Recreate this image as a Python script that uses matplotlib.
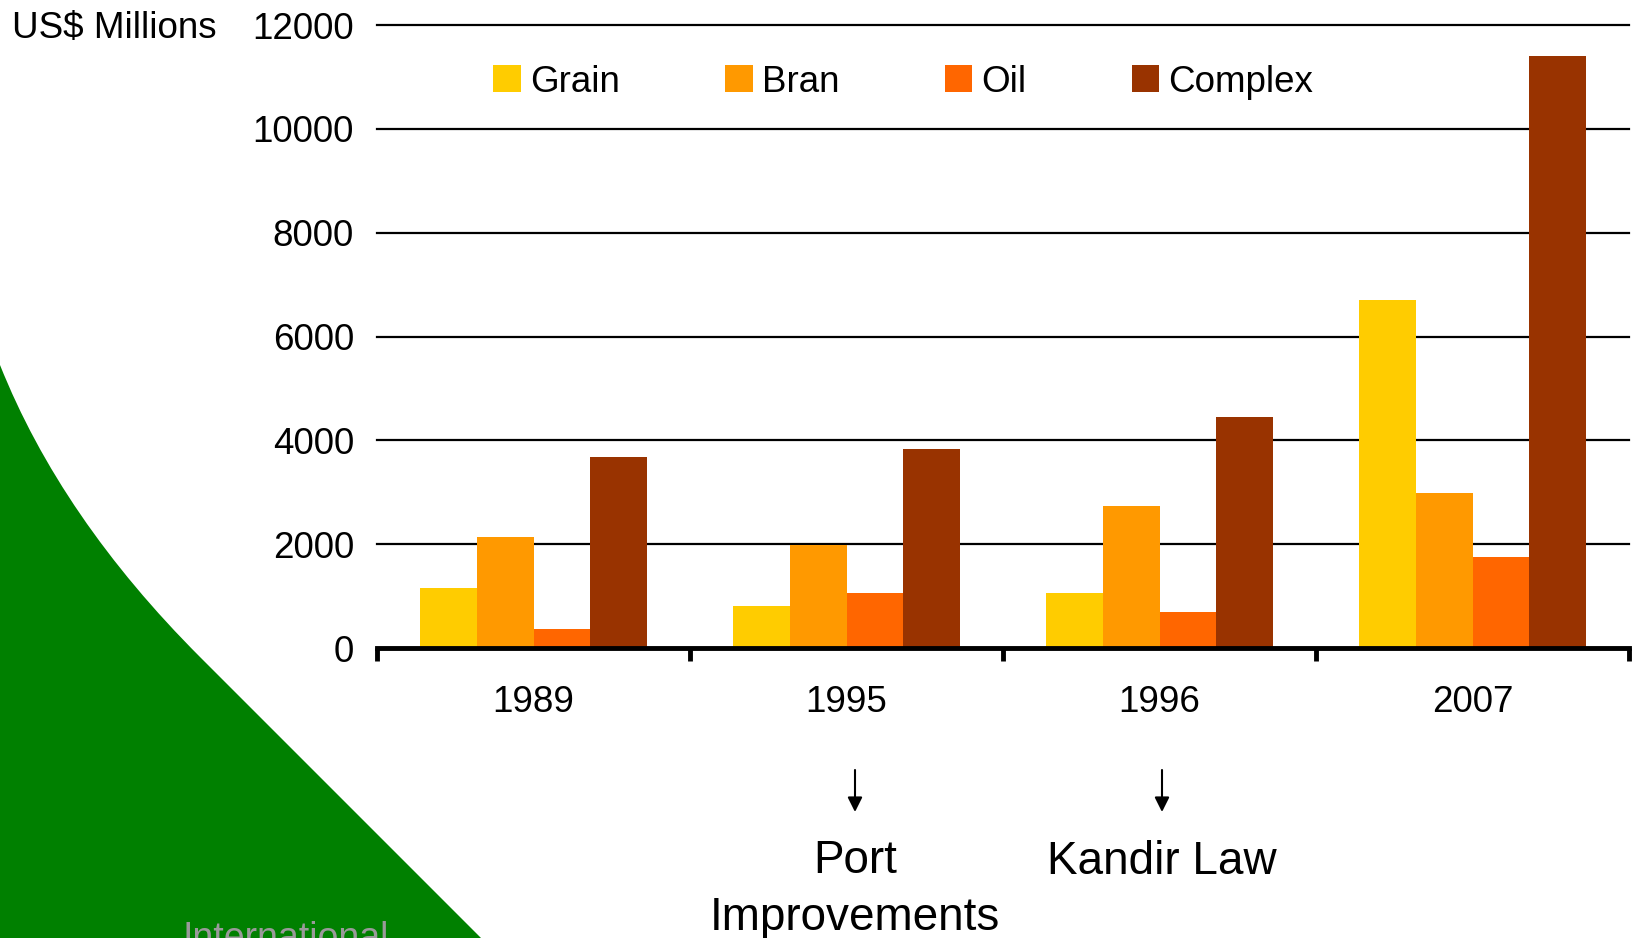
import numpy as np
import matplotlib
matplotlib.use('Agg')
import matplotlib.pyplot as plt
import matplotlib.transforms as mtransforms
from matplotlib.patches import PathPatch
from matplotlib.path import Path

plt.rcParams['font.family'] = ['Liberation Sans', 'DejaVu Sans']

# data (US$ millions)
years = ['1989', '1995', '1996', '2007']
grain = [1150, 800, 1050, 6700]
bran = [2130, 1990, 2730, 2980]
oil = [360, 1050, 700, 1750]
complex_ = [3670, 3830, 4450, 11400]
series_names = ['Grain', 'Bran', 'Oil', 'Complex']
colors = ['#FFCC00', '#FF9900', '#FF6600', '#993300']

events = ['Port\nImprovements', 'Kandir Law']

W, H = 1632, 938
fig = plt.figure(figsize=(W / 100, H / 100), dpi=100)


def fx(px):
    return px / W


def fy(py):
    return 1 - py / H


# green slide decoration in the lower left corner
verts = [(0, 365), (61, 518), (200, 657), (481, 938), (0, 938), (0, 365)]
codes = [Path.MOVETO, Path.CURVE3, Path.CURVE3, Path.LINETO, Path.LINETO, Path.CLOSEPOLY]
shape = Path([(fx(a), fy(b)) for a, b in verts], codes)
fig.add_artist(PathPatch(shape, transform=fig.transFigure, facecolor='#008000',
                         edgecolor='none', zorder=0))
fig.text(fx(182), fy(949), 'International', fontsize=27, color='#9a9a9a', va='baseline')

ax = fig.add_axes([fx(377), fy(648), fx(1629 - 377), (648 - 25) / H])

x = np.arange(len(years))
w = 0.182
all_series = [grain, bran, oil, complex_]
for k, vals in enumerate(all_series):
    ax.bar(x + (k - 1.5) * w, vals, width=w, color=colors[k], label=series_names[k], zorder=3)

ax.set_xlim(-0.5, 3.5)
ax.set_ylim(0, 12000)
ax.set_yticks(np.arange(0, 12001, 2000))
ax.yaxis.grid(True, color='black', linewidth=1.6, zorder=1)
for gl in ax.get_ygridlines():
    gl.set_clip_on(False)
ax.set_axisbelow(True)

for s in ['top', 'right', 'left']:
    ax.spines[s].set_visible(False)
ax.spines['bottom'].set_linewidth(3.5)
ax.spines['bottom'].set_zorder(4)

ax.set_xticks(x)
ax.set_xticklabels(years)
ax.set_xticks(np.arange(-0.5, 4, 1), minor=True)
ax.tick_params(axis='x', which='major', length=0, pad=26.5, labelsize=26.5)
ax.tick_params(axis='x', which='minor', length=9.5, width=3.5, direction='out')
ax.tick_params(axis='y', length=0, pad=16.5, labelsize=26.5)

fig.text(fx(12), fy(28), 'US$ Millions', fontsize=26.5, va='center', ha='left')

ax.legend(loc='center left', bbox_to_anchor=(fx(493), fy(82)), bbox_transform=fig.transFigure,
          ncol=4, frameon=False, fontsize=26.5, handlelength=0.75, handleheight=0.75,
          handletextpad=0.25, columnspacing=2.86, borderpad=0, borderaxespad=0)

# arrows and notes under 1995 and 1996
event_x = [855, 1162]
trans = mtransforms.blended_transform_factory(fig.transFigure, fig.transFigure)
for txt, px in zip(events, event_x):
    ax.annotate('', xy=(fx(px), fy(812)), xytext=(fx(px), fy(770)), xycoords=trans, textcoords=trans,
                arrowprops=dict(arrowstyle='-|>', color='black', lw=1.5, mutation_scale=22,
                                shrinkA=0, shrinkB=0),
                annotation_clip=False)
    nlines = txt.count('\n')
    fig.text(fx(px), fy(874 + 56 * nlines), txt, ha='center', va='baseline',
             multialignment='center', fontsize=33, linespacing=1.39)

fig.savefig('out.png', dpi=100)
